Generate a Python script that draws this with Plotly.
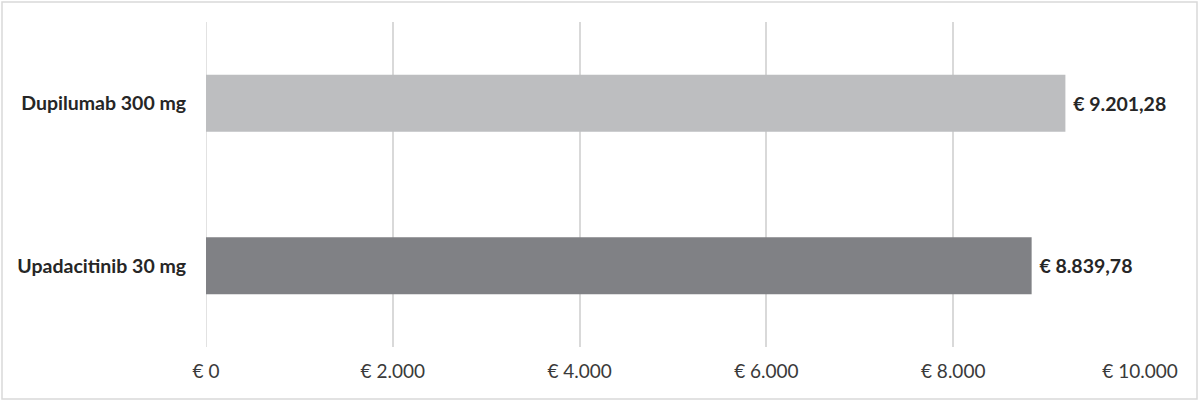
import plotly.graph_objects as go

categories = ["Dupilumab 300 mg", "Upadacitinib 30 mg"]
values = [9201.28, 8839.78]
value_labels = ["€ 9.201,28", "€ 8.839,78"]
bar_colors = ["#BDBEC0", "#808185"]
tick_vals = [0, 2000, 4000, 6000, 8000, 10000]
tick_text = ["€ 0", "€ 2.000", "€ 4.000", "€ 6.000", "€ 8.000", "€ 10.000"]

W, H = 1200, 402
ml, mr, mt, mb = 206, 60, 22, 55
pw, ph = W - ml - mr, H - mt - mb

fig = go.Figure(go.Bar(
    y=categories, x=values, orientation="h",
    marker=dict(color=bar_colors, line=dict(width=0)),
    width=0.35,
    text=[" " + t for t in value_labels], textposition="outside",
    textfont=dict(family="Lato", size=19.5, color="#262626", weight="bold"),
    cliponaxis=False,
))

fig.update_layout(
    width=W, height=H,
    margin=dict(l=ml, r=mr, t=mt, b=mb),
    paper_bgcolor="white", plot_bgcolor="white",
    showlegend=False,
    font=dict(family="Lato", color="#404040"),
    xaxis=dict(range=[0, 10000], tickvals=tick_vals, ticktext=tick_text,
               showgrid=True, gridcolor="#D9D9D9", gridwidth=1.5,
               zeroline=False, showline=False,
               ticks="outside", ticklen=7, tickcolor="rgba(0,0,0,0)",
               tickfont=dict(family="Lato", size=19, color="#3A3A3A")),
    yaxis=dict(autorange="reversed", showgrid=False, zeroline=False, showline=False,
               ticks="outside", ticklen=15, tickcolor="rgba(0,0,0,0)",
               tickfont=dict(family="Lato", size=19.5, color="#262626", weight="bold")),
    shapes=[dict(type="line", xref="x", yref="paper", x0=0, x1=0, y0=0, y1=1,
                 line=dict(color="#D9D9D9", width=1.5), layer="below"),
            dict(type="rect", xref="paper", yref="paper",
                 x0=(2 - ml) / pw, x1=(W - 3 - ml) / pw,
                 y0=-(H - 3 - (H - mb)) / ph,
                 y1=1 + (mt - 2) / ph,
                 line=dict(color="#D9D9D9", width=1.5))],
)

fig.write_html("out.html", config={"displayModeBar": False},
               post_script="document.body.style.margin='0';document.body.style.overflow='hidden';")
